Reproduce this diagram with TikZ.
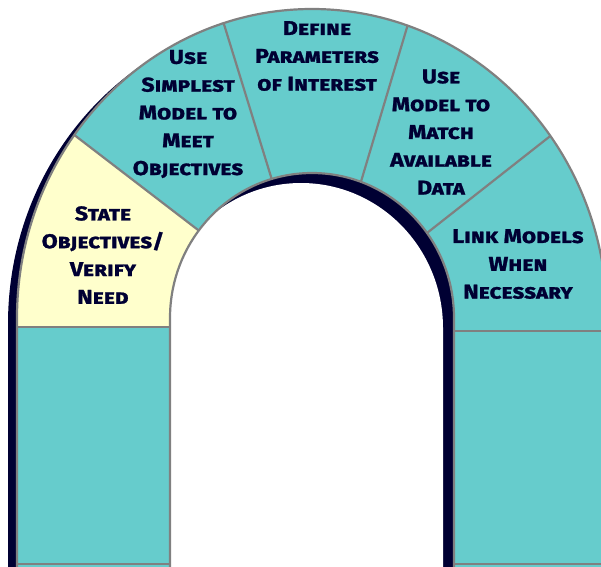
\documentclass[tikz,border=0pt]{standalone}
\usepackage{fontspec}
\setmainfont{Fira Sans}
\newfontfamily\archfont{Fira Sans}[FakeStretch=1.16, FakeBold=1.2]
\definecolor{archteal}{HTML}{66CCCC}
\definecolor{archyellow}{HTML}{FFFFCC}
\definecolor{archdark}{HTML}{000033}
\definecolor{archgrey}{HTML}{808080}
\tikzset{
  seglabel/.style={align=center, inner sep=0pt, text=archdark,
    font=\archfont\fontsize{20}{27.8}\selectfont\bfseries\scshape},
  segline/.style={draw=archgrey, line width=2.2pt},
}
\newcommand\outerpath{(17,580) -- (17,318) arc[start angle=180, end angle=360, x radius=295, y radius=309] -- (607,580) -- cycle}
\newcommand\holepath{(170,580) -- (170,318) arc[start angle=180, end angle=360, x radius=142, y radius=145] -- (454,580) -- cycle}
\begin{document}
\begin{tikzpicture}[x=1pt, y=-1pt]
\useasboundingbox (0,0) rectangle (601,566);
\clip (0,0) rectangle (601,566);
\fill[white] (0,0) rectangle (601,566);
% outer shadow band
\begin{scope}[shift={(-9,6)}]
  \fill[archdark] \outerpath;
\end{scope}
% arch body
\fill[archteal, even odd rule] \outerpath \holepath;
% yellow segment
\begin{scope}[even odd rule]
  \clip \outerpath \holepath;
  \fill[archyellow] (-44,44) -- (258,276) -- (258,327) -- (0,327) -- (0,44) -- cycle;
  % radial boundaries
  \coordinate (l1a) at (60,124); \coordinate (l1b) at (215,243);
  \coordinate (l2a) at (219,8);  \coordinate (l2b) at (276,193);
  \coordinate (l3a) at (411,14); \coordinate (l3b) at (357,195);
  \coordinate (l4a) at (563,126); \coordinate (l4b) at (413,244);
  \coordinate (h1a) at (0,327); \coordinate (h1b) at (180,327);
  \coordinate (h2a) at (440,331); \coordinate (h2b) at (610,331);
  \draw[segline] (l1a) -- (l1b);
  \draw[segline] (l2a) -- (l2b);
  \draw[segline] (l3a) -- (l3b);
  \draw[segline] (l4a) -- (l4b);
  \draw[segline] (h1a) -- (h1b);
  \draw[segline] (h2a) -- (h2b);
\end{scope}
% opening with inner shadow band
\fill[archdark] \holepath;
\begin{scope}
  \clip \holepath;
  \begin{scope}[shift={(-11,10)}]
    \fill[white] \holepath;
  \end{scope}
\end{scope}
% outlines
\draw[segline] (17,580) -- (17,318) arc[start angle=180, end angle=360, x radius=295, y radius=309];
\draw[segline] (170,580) -- (170,318) arc[start angle=180, end angle=360, x radius=142, y radius=145] -- (454,580);
\coordinate (b1a) at (17,564); \coordinate (b1b) at (170,564);
\coordinate (b2a) at (454,564); \coordinate (b2b) at (610,564);
\draw[segline] (b1a) -- (b1b);
\draw[segline] (b2a) -- (b2b);
% labels
\node[seglabel] (state) at (103,255) {State\\Objectives/\\Verify\\Need};
\node[seglabel] (simplest) at (188,114) {Use\\Simplest\\Model to\\Meet\\Objectives};
\node[seglabel] (define) at (317,56) {Define\\Parameters\\of Interest};
\node[seglabel] (match) at (441,132) {Use\\Model to\\Match\\Available\\Data};
\node[seglabel] (link) at (518,264) {Link Models\\When\\Necessary};
\end{tikzpicture}
\end{document}
